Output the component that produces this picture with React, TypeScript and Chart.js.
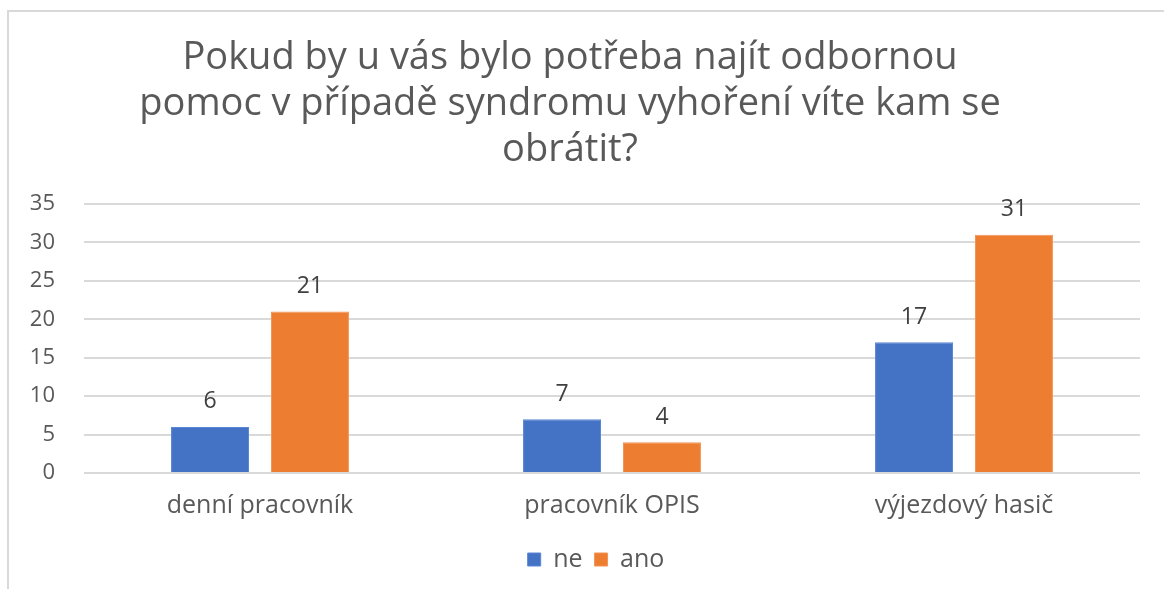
import React, { useEffect, useRef } from "react";
import { Chart, registerables } from "chart.js";

Chart.register(...registerables);

const categories = ["denní pracovník", "pracovník OPIS", "výjezdový hasič"];
const neValues = [6, 7, 17];
const anoValues = [21, 4, 31];
const seriesNames = ["ne", "ano"];
const titleLines = [
  "Pokud by u vás bylo potřeba najít odbornou",
  "pomoc v případě syndromu vyhoření víte kam se",
  "obrátit?",
];

const FONT = "'Open Sans', sans-serif";

const dataLabelPlugin = {
  id: "dataLabels",
  afterDatasetsDraw(chart: any) {
    const ctx = chart.ctx;
    ctx.save();
    ctx.font = `23px ${FONT}`;
    ctx.fillStyle = "#404040";
    ctx.textAlign = "center";
    ctx.textBaseline = "middle";
    chart.data.datasets.forEach((ds: any, i: number) => {
      const meta = chart.getDatasetMeta(i);
      meta.data.forEach((el: any, j: number) => {
        ctx.fillText(String(ds.data[j]), el.x, el.y - 25);
      });
    });
    ctx.restore();
  },
};

const legendShiftPlugin = {
  id: "legendShift",
  afterLayout(chart: any) {
    if (chart.legend) {
      chart.legend.left += 26;
      chart.legend.right += 26;
    }
  },
};

export default function App() {
  const ref = useRef<HTMLCanvasElement>(null);
  useEffect(() => {
    if (!ref.current) return;
    const chart = new Chart(ref.current, {
      type: "bar",
      data: {
        labels: categories,
        datasets: [
          {
            label: seriesNames[0],
            data: neValues,
            backgroundColor: "#4472C4",
            borderColor: "#5a86d6",
            borderWidth: 1,
            categoryPercentage: 0.568,
            barPercentage: 0.78,
          },
          {
            label: seriesNames[1],
            data: anoValues,
            backgroundColor: "#ED7D31",
            borderColor: "#f39455",
            borderWidth: 1,
            categoryPercentage: 0.568,
            barPercentage: 0.78,
          },
        ],
      },
      options: {
        animation: false,
        responsive: false,
        maintainAspectRatio: false,
        layout: { padding: { top: 10, left: 0, right: 24, bottom: 7 } },
        plugins: {
          title: {
            display: true,
            text: titleLines,
            color: "#595959",
            font: { family: FONT, size: 38, weight: "normal", lineHeight: 46 / 38 },
            padding: { top: 25, bottom: 31 },
          },
          legend: {
            position: "bottom",
            labels: {
              boxWidth: 13,
              boxHeight: 13,
              color: "#595959",
              font: { family: FONT, size: 25 },
              padding: 12,
            },
          },
          tooltip: { enabled: false },
        },
        scales: {
          x: {
            grid: { display: false, drawTicks: false },
            border: { display: false },
            ticks: { color: "#595959", font: { family: FONT, size: 25 }, padding: 18 },
            afterFit: (s: any) => {
              s.height = 62;
            },
          },
          y: {
            min: 0,
            max: 35,
            ticks: { stepSize: 5, color: "#595959", font: { family: FONT, size: 22 }, padding: 29 },
            grid: { color: "#d9d9d9", lineWidth: 2, drawTicks: false },
            border: { display: false },
            afterFit: (s: any) => {
              s.width = 84;
            },
          },
        },
      },
      plugins: [dataLabelPlugin, legendShiftPlugin],
    });
    return () => chart.destroy();
  }, []);
  return (
    <div style={{ position: "absolute", left: 0, top: 0, width: 1164, height: 589, background: "#fff" }}>
      <div
        style={{
          position: "absolute",
          left: 7,
          top: 10,
          width: 1170,
          height: 600,
          borderTop: "2px solid #d9d9d9",
          borderLeft: "2px solid #d9d9d9",
        }}
      />
      <canvas ref={ref} width={1164} height={589} style={{ position: "absolute", left: 0, top: 0 }} />
    </div>
  );
}
